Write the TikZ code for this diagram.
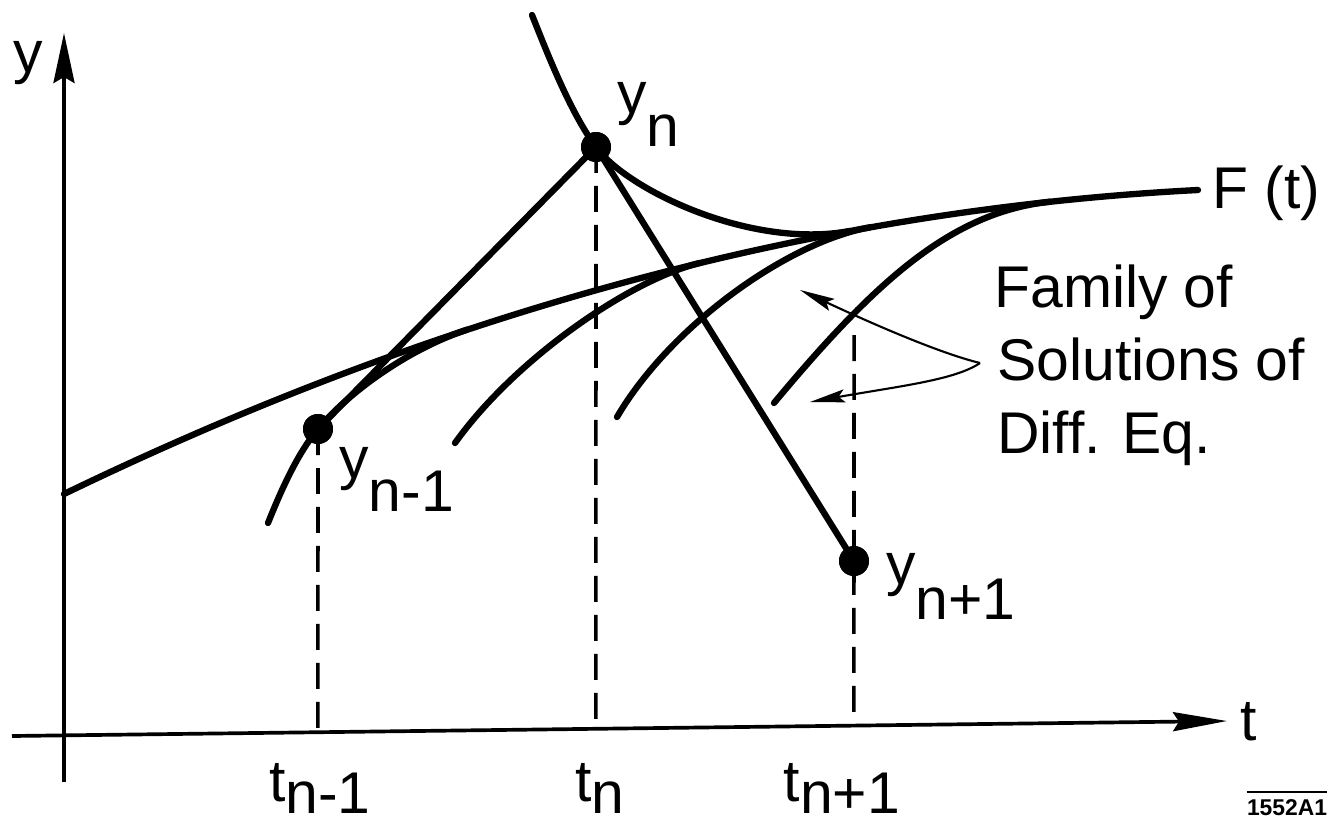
\documentclass[tikz,border=0pt]{standalone}
\usepackage{fontspec}
\setmainfont{Liberation Sans}
\usetikzlibrary{arrows.meta,calc}
\begin{document}
\begin{tikzpicture}[x=0.02cm,y=-0.02cm,
  lbl/.style={inner sep=0pt,font=\fontsize{33.5}{40}\selectfont},
  curve/.style={line width=3.6pt,line cap=round},
  axis/.style={line width=2.1pt},
  guide/.style={line width=2pt,dash pattern=on 0.52cm off 0.26cm},
  dot/.style={circle,fill=black,inner sep=0pt,minimum size=0.6cm},
  pointer/.style={line width=1.2pt,-{Stealth[length=0.7cm,width=0.26cm,inset=0.12cm]}},
]
\useasboundingbox (0,0) rectangle (1338,832);

% axes
\coordinate (ax0) at (12,736);
\coordinate (ax1) at (1227,721);
\coordinate (yb) at (64,782);
\coordinate (yt) at (64,33);
\draw[axis,-{Stealth[length=1.08cm,width=0.38cm,inset=0.12cm]}] (ax0) -- (ax1);
\draw[axis,-{Stealth[length=1cm,width=0.42cm,inset=0.12cm]}] (yb) -- (yt);
\node[lbl,anchor=base west] (ylab) at (13,72) {y};
\node[lbl,anchor=base west] (tlab) at (1240,740) {t};

% points
\node[dot] (p1) at (318,429) {};
\node[dot] (p2) at (596,147) {};
\node[dot] (p3) at (854,561) {};
\coordinate (p1b) at (318,800);
\coordinate (p2b) at (596,800);
\coordinate (p3b) at (854,800);
\coordinate (p3t) at (854,335);

% dashed guides
\draw[guide] (p1.center) -- (intersection of ax0--ax1 and p1--p1b);
\draw[guide] (p2.center) -- (intersection of ax0--ax1 and p2--p2b);
\draw[guide] (p3t) -- (intersection of ax0--ax1 and p3t--p3b);

% F(t)
\coordinate (f0) at (64,494);
\coordinate (f1) at (1198,190);
\draw[curve] (f0) .. controls (444,310.3) and (821,209.3) .. (f1);

% family of solutions
\coordinate (c0) at (268,523);
\coordinate (c1) at (467,329.7);
\draw[curve] (c0) .. controls (288,473) and (303,447) .. (p1.center)
  .. controls (348,393) and (407,349.6) .. (c1);
\coordinate (d0) at (455,443);
\coordinate (d1) at (700,262.9);
\draw[curve] (d0) .. controls (515,359) and (630,279.8) .. (d1);
\coordinate (e0) at (617,417);
\coordinate (e1) at (870,227.3);
\draw[curve] (e0) .. controls (672,323.5) and (790,241.5) .. (e1);
\coordinate (g0) at (774,403);
\coordinate (g1) at (1050,201.7);
\draw[curve] (g0) .. controls (874,283) and (950,212.5) .. (g1);
\coordinate (h0) at (532,15);
\coordinate (h1) at (850,231);
\draw[curve] (h0) .. controls (547,52.5) and (570,112) .. (p2.center)
  .. controls (626,189) and (750,249.5) .. (h1);

% polygon
\draw[curve] (p1.center) -- (p2.center) -- (p3.center);

% redraw dots on top
\node[dot] at (p1) {};
\node[dot] at (p2) {};
\node[dot] at (p3) {};

% labels
\node[lbl,anchor=base west] (lyn) at (617,113) {y\raisebox{-0.57em}{n}};
\node[lbl,anchor=base west] (lyn1) at (339,478) {y\raisebox{-0.57em}{n-1}};
\node[lbl,anchor=base west] (lyn2) at (886,584) {y\raisebox{-0.6em}{n+1}};
\node[lbl,anchor=base west] (lF) at (1212,208) {F (t)};

\node[lbl,anchor=base] (ltn1) at (320,801) {t\raisebox{-0.22em}{n-1}};
\node[lbl,anchor=base] (ltn) at (600,801) {t\raisebox{-0.22em}{n}};
\node[lbl,anchor=base] (ltn2) at (842,801) {t\raisebox{-0.22em}{n+1}};

\node[lbl,anchor=base west] (fam1) at (994,307) {Family of};
\node[lbl,anchor=base west] (fam2) at (997,380) {Solutions of};
\node[lbl,anchor=base west] (fam3) at (997,453) {Diff. Eq.};

% pointers
\coordinate (ptr) at (980,363);
\coordinate (tipA) at (800,290);
\coordinate (tipB) at (810,402);
\draw[pointer] (ptr) .. controls (935,352) and (860,318) .. (tipA);
\draw[pointer] (ptr) .. controls (955,380) and (900,386) .. (tipB);

% figure code
\node[inner sep=0pt,font=\fontsize{13}{15}\selectfont\bfseries,anchor=base] (code) at (1287,815) {1552A1};
\draw[line width=1.1pt] ([yshift=4pt]code.north west) -- ([yshift=4pt]code.north east);
\end{tikzpicture}
\end{document}
